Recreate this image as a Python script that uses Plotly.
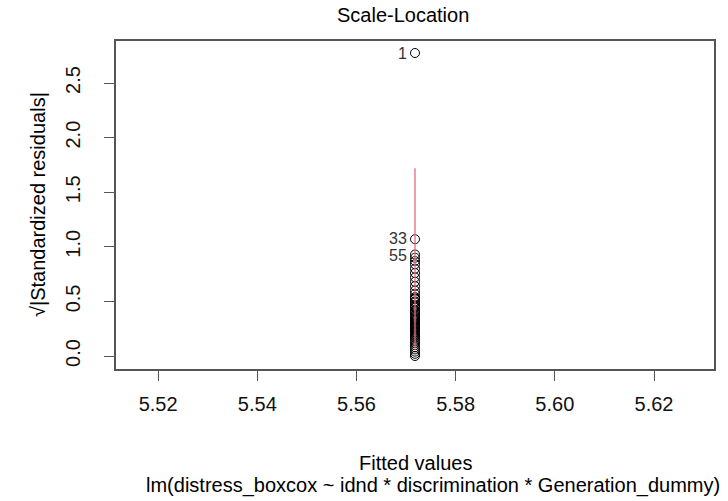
import plotly.graph_objects as go

# --- data ---
fitted_value = 5.5718  # all fitted values are (numerically) identical
sqrt_std_resid = [2.775, 1.07, 0.93,
                  0.90, 0.87, 0.84, 0.80, 0.76, 0.72, 0.68, 0.64, 0.60, 0.57,
                  0.54, 0.52, 0.50, 0.49, 0.47, 0.45, 0.44, 0.42, 0.40, 0.38,
                  0.37, 0.35, 0.34, 0.33, 0.31, 0.30, 0.29, 0.28, 0.27, 0.26,
                  0.25, 0.24, 0.23, 0.22, 0.21, 0.20, 0.19, 0.18, 0.16, 0.14,
                  0.12, 0.10, 0.08, 0.06, 0.04, 0.02, 0.0, 0.36, 0.41, 0.46,
                  0.53, 0.32, 0.26, 0.22, 0.17]
point_labels = ["1", "33", "55"]          # labels of the first three points
smooth_y = [0.05, 1.72]                    # span of the loess smoother
x_ticks = [5.52, 5.54, 5.56, 5.58, 5.60, 5.62]
x_tick_text = ["5.52", "5.54", "5.56", "5.58", "5.60", "5.62"]
y_ticks = [0.0, 0.5, 1.0, 1.5, 2.0, 2.5]
y_tick_text = ["0.0", "0.5", "1.0", "1.5", "2.0", "2.5"]
x_range = [5.5115, 5.6321]
y_range = [-0.119, 2.885]

FONT = "Liberation Sans, Arial, sans-serif"
AX = "#555555"
FS = 20

fitted = [fitted_value] * len(sqrt_std_resid)

fig = go.Figure()
fig.add_trace(go.Scatter(
    x=fitted, y=sqrt_std_resid, mode="markers",
    marker=dict(symbol="circle-open", size=9, color="black", line=dict(width=1)),
    showlegend=False, hoverinfo="skip"))
fig.add_trace(go.Scatter(
    x=[fitted_value, fitted_value], y=smooth_y, mode="lines",
    line=dict(color="#E8738A", width=1.6), opacity=0.85,
    showlegend=False, hoverinfo="skip"))

annotations = []
label_shift = [0, 1, -1]
for i, lab in enumerate(point_labels):
    annotations.append(dict(
        text=lab, x=fitted[i], y=sqrt_std_resid[i], xref="x", yref="y",
        xanchor="right", yanchor="middle", xshift=-6, yshift=label_shift[i],
        showarrow=False, font=dict(family=FONT, size=16, color="#333333")))

annotations += [
    dict(text="Scale-Location", x=0.5, xref="paper", xshift=-12, y=1, yref="paper",
         yshift=26, yanchor="middle", showarrow=False, font=dict(size=FS)),
    dict(text="Fitted values", x=0.5, xref="paper", y=0, yref="paper",
         yshift=-94, yanchor="middle", showarrow=False, font=dict(size=FS)),
    dict(text="lm(distress_boxcox ~ idnd * discrimination * Generation_dummy)",
         x=0.5, xref="paper", xshift=18, y=0, yref="paper", yshift=-116,
         yanchor="middle", showarrow=False, font=dict(size=FS)),
    dict(text="\u221a|Standardized residuals|", x=0, xref="paper",
         xshift=-78, xanchor="center", y=0.5, yref="paper", textangle=-90,
         showarrow=False, font=dict(size=FS)),
]

fig.update_layout(
    width=728, height=501,
    margin=dict(l=116, r=14, t=41, b=132),
    paper_bgcolor="white", plot_bgcolor="white",
    font=dict(family=FONT, color="black", size=FS),
    xaxis=dict(range=x_range, tickvals=x_ticks, ticktext=x_tick_text,
               showgrid=False, zeroline=False, showline=True, mirror=True,
               linecolor=AX, linewidth=1.5, ticks="outside", ticklen=10,
               tickcolor=AX, tickwidth=1.3, ticklabelstandoff=6,
               tickfont=dict(size=FS, color="#111111")),
    yaxis=dict(range=y_range, tickvals=y_ticks, ticktext=y_tick_text,
               showgrid=False, zeroline=False, showline=True, mirror=True,
               linecolor=AX, linewidth=1.5, ticks="outside", ticklen=10,
               tickcolor=AX, tickwidth=1.3, tickangle=-90, ticklabelstandoff=16,
               tickfont=dict(size=FS, color="#111111")),
    annotations=annotations,
)

fig.write_html("out.html")
